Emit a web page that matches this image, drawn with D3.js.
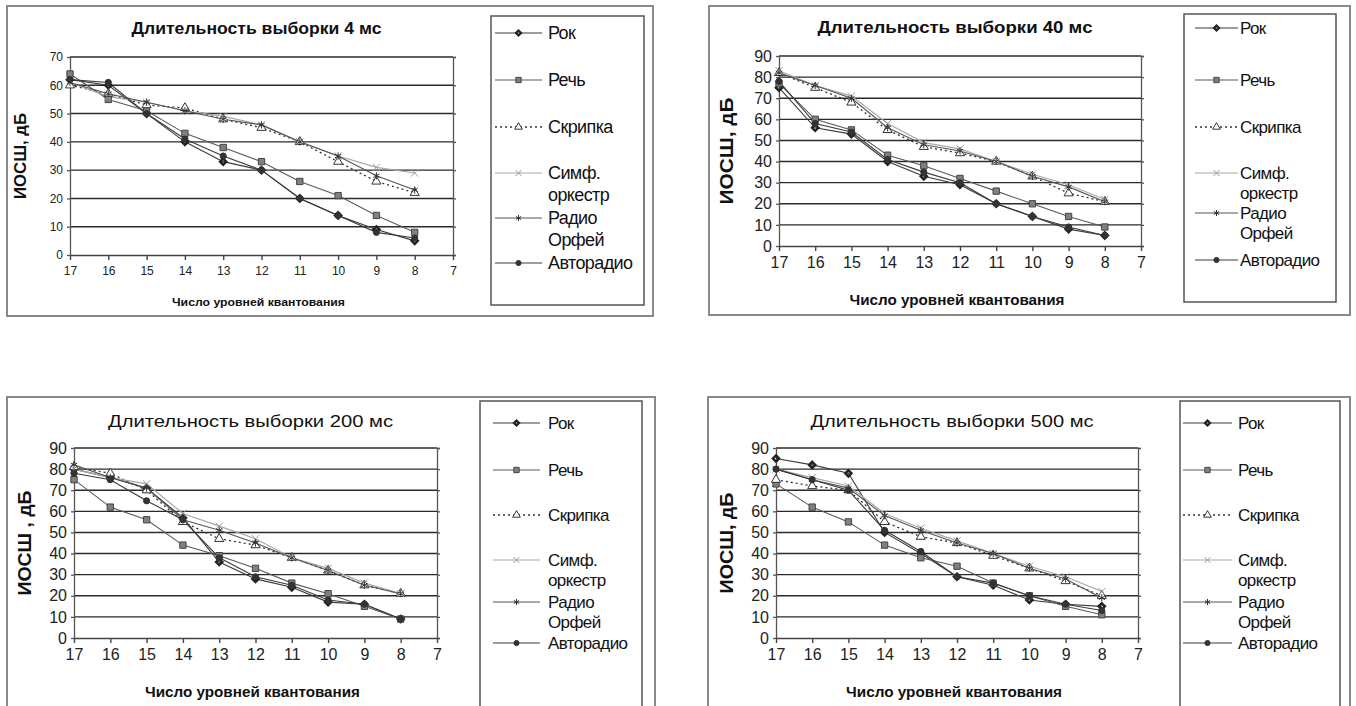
<!DOCTYPE html>
<html>
<head>
<meta charset="utf-8">
<script src="https://cdn.jsdelivr.net/npm/d3@7"></script>
<style>
  html, body { margin: 0; padding: 0; background: #fff; }
  svg { display: block; font-family: "Liberation Sans", Arial, sans-serif; }
</style>
</head>
<body>
<svg id="chart" width="1356" height="706"></svg>
<script>
// ---------- DATA ----------
const levels = [17, 16, 15, 14, 13, 12, 11, 10, 9, 8];
const xTickLabels = [17, 16, 15, 14, 13, 12, 11, 10, 9, 8, 7];
const seriesNames = ["Рок", "Речь", "Скрипка", "Симф. оркестр", "Радио Орфей", "Авторадио"];
const titles = ["Длительность выборки 4 мс", "Длительность выборки 40 мс",
                "Длительность выборки 200 мс", "Длительность выборки 500 мс"];
const yLabels = ["ИОСШ, дБ", "ИОСШ, дБ", "ИОСШ , дБ", "ИОСШ, дБ"];
const xLabel = "Число уровней квантования";
const yTicks4 = [0, 10, 20, 30, 40, 50, 60, 70];
const yTicksOther = [0, 10, 20, 30, 40, 50, 60, 70, 80, 90];

// 4 ms
const rock4    = [62, 60, 50, 40, 33, 30, 20, 14, 9, 5];
const speech4  = [64, 55, 51, 43, 38, 33, 26, 21, 14, 8];
const violin4  = [60, 57, 53, 52, 48, 45, 40, 33, 26, 22];
const orch4    = [61, 56, 54, 51, 49, 46, 40, 35, 31, 29];
const orfei4   = [61, 57, 54, 51, 48, 46, 40, 35, 28, 23];
const avto4    = [62, 61, 50, 41, 35, 30, 20, 14, 8, 6];
// 40 ms
const rock40   = [75, 56, 53, 40, 33, 29, 20, 14, 8, 5];
const speech40 = [77, 60, 55, 43, 38, 32, 26, 20, 14, 9];
const violin40 = [82, 75, 68, 55, 47, 44, 40, 33, 25, 21];
const orch40   = [83, 76, 71, 58, 49, 46, 40, 34, 29, 22];
const orfei40  = [82, 76, 70, 56, 48, 45, 40, 33, 28, 21];
const avto40   = [78, 58, 54, 41, 35, 30, 20, 14, 9, 5];
// 200 ms
const rock200   = [80, 76, 71, 57, 36, 28, 24, 17, 16, 9];
const speech200 = [75, 62, 56, 44, 39, 33, 26, 21, 15, 9];
const violin200 = [81, 78, 70, 55, 47, 44, 38, 32, 25, 21];
const orch200   = [80, 76, 73, 59, 53, 47, 38, 33, 26, 21];
const orfei200  = [82, 76, 71, 56, 51, 45, 38, 32, 25, 21];
const avto200   = [78, 75, 65, 56, 38, 29, 25, 18, 16, 9];
// 500 ms
const rock500   = [85, 82, 78, 50, 40, 29, 25, 18, 16, 15];
const speech500 = [73, 62, 55, 44, 38, 34, 26, 20, 15, 11];
const violin500 = [75, 72, 70, 55, 48, 45, 39, 33, 27, 20];
const orch500   = [80, 76, 72, 59, 52, 46, 40, 34, 29, 22];
const orfei500  = [80, 75, 71, 58, 51, 45, 40, 33, 28, 19];
const avto500   = [80, 75, 70, 51, 41, 29, 26, 20, 16, 13];

// ---------- STYLES ----------
const styles = [
  { stroke: "#3a3a3a", width: 1.1, dash: null,  marker: "diamond",  fill: "#222",  mstroke: "#222",  size: 24 },
  { stroke: "#5a5a5a", width: 1.1, dash: null,  marker: "square",   fill: "#808080", mstroke: "#444", size: 40 },
  { stroke: "#333",    width: 1.3, dash: "2,3", marker: "triangle", fill: "#fff",  mstroke: "#333",  size: 36 },
  { stroke: "#a8a8a8", width: 1.2, dash: null,  marker: "cross",    fill: "none",  mstroke: "#999",  size: 36 },
  { stroke: "#555",    width: 1.1, dash: null,  marker: "star",     fill: "none",  mstroke: "#333",  size: 36 },
  { stroke: "#3a3a3a", width: 1.1, dash: null,  marker: "circle",   fill: "#333",  mstroke: "#333",  size: 30 }
];
const symbolTypes = {
  diamond: d3.symbolDiamond2, square: d3.symbolSquare, triangle: d3.symbolTriangle,
  cross: d3.symbolX, star: d3.symbolAsterisk, circle: d3.symbolCircle
};

const panels = [
  { title: titles[0], yLabel: yLabels[0], yMax: 70, yTicks: yTicks4,
    series: [rock4, speech4, violin4, orch4, orfei4, avto4],
    box: [7, 6, 646, 310], plot: { x0: 70, x1: 453, y0: 255, y1: 57 },
    tickFont: 12, titleFont: 16, titleBold: true, titleLen: 250, titleY: 34,
    yLabFont: 16, yLabLen: 86, yLabX: 20,
    xLabFont: 11, xLabLen: 173, xLabY: 306,
    legend: { box: [491, 16, 153, 289], rows: [33, 80, 127, 173, 218, 263], lx0: 495, lx1: 542, tx: 548, font: 18, gap: 22 } },
  { title: titles[1], yLabel: yLabels[1], yMax: 90, yTicks: yTicksOther,
    series: [rock40, speech40, violin40, orch40, orfei40, avto40],
    box: [709, 6, 641, 309], plot: { x0: 779, x1: 1141, y0: 246, y1: 56 },
    tickFont: 16, titleFont: 16, titleBold: true, titleLen: 275, titleY: 33,
    yLabFont: 18, yLabLen: 107, yLabX: 727,
    xLabFont: 14, xLabLen: 215, xLabY: 305,
    legend: { box: [1184, 14, 152, 288], rows: [28, 80, 127, 173, 213, 260], lx0: 1195, lx1: 1238, tx: 1240, font: 17, gap: 20 } },
  { title: titles[2], yLabel: yLabels[2], yMax: 90, yTicks: yTicksOther,
    series: [rock200, speech200, violin200, orch200, orfei200, avto200],
    box: [7, 397, 648, 330], plot: { x0: 74, x1: 437, y0: 638, y1: 448 },
    tickFont: 16, titleFont: 17, titleBold: false, titleLen: 285, titleY: 427,
    yLabFont: 18, yLabLen: 105, yLabX: 25,
    xLabFont: 14, xLabLen: 215, xLabY: 697,
    legend: { box: [480, 401, 162, 310], rows: [423, 470, 515, 560, 602, 643], lx0: 493, lx1: 540, tx: 548, font: 17, gap: 20 } },
  { title: titles[3], yLabel: yLabels[3], yMax: 90, yTicks: yTicksOther,
    series: [rock500, speech500, violin500, orch500, orfei500, avto500],
    box: [708, 397, 642, 330], plot: { x0: 776, x1: 1138, y0: 638, y1: 448 },
    tickFont: 16, titleFont: 17, titleBold: false, titleLen: 283, titleY: 427,
    yLabFont: 18, yLabLen: 101, yLabX: 727,
    xLabFont: 14, xLabLen: 216, xLabY: 697,
    legend: { box: [1180, 401, 160, 310], rows: [423, 470, 515, 560, 602, 643], lx0: 1183, lx1: 1232, tx: 1238, font: 17, gap: 20 } }
];

const svg = d3.select("#chart");

function drawPanel(p) {
  const g = svg.append("g");
  g.append("rect").attr("x", p.box[0]).attr("y", p.box[1]).attr("width", p.box[2]).attr("height", p.box[3])
    .attr("fill", "#fff").attr("stroke", "#8a8a8a").attr("stroke-width", 2);

  const x = d3.scaleLinear().domain([17, 7]).range([p.plot.x0, p.plot.x1]);
  const y = d3.scaleLinear().domain([0, p.yMax]).range([p.plot.y0, p.plot.y1]);

  g.append("g").selectAll("line").data(p.yTicks.filter(t => t > 0)).join("line")
    .attr("x1", p.plot.x0).attr("x2", p.plot.x1)
    .attr("y1", d => y(d)).attr("y2", d => y(d))
    .attr("stroke", "#2a2a2a").attr("stroke-width", 1.4);

  const rAxis = d3.axisRight(y).tickValues(p.yTicks).tickSize(3).tickFormat("");
  g.append("g").attr("transform", `translate(${p.plot.x1},0)`).call(rAxis)
    .call(a => a.selectAll("line, path").attr("stroke", "#555").attr("stroke-width", 1.3));

  const lAxis = d3.axisLeft(y).tickValues(p.yTicks).tickSize(3).tickSizeOuter(0).tickPadding(4);
  g.append("g").attr("transform", `translate(${p.plot.x0},0)`).call(lAxis)
    .call(a => a.selectAll("line, path").attr("stroke", "#555").attr("stroke-width", 1.3))
    .call(a => a.selectAll("text").attr("font-size", p.tickFont).attr("fill", "#222")
      .attr("font-family", "Liberation Sans, Arial, sans-serif"));

  const bAxis = d3.axisBottom(x).tickValues(xTickLabels).tickSize(5).tickSizeOuter(0).tickPadding(6)
    .tickFormat(d3.format("d"));
  g.append("g").attr("transform", `translate(0,${p.plot.y0})`).call(bAxis)
    .call(a => a.selectAll("line, path").attr("stroke", "#444").attr("stroke-width", 1.4))
    .call(a => a.selectAll("text").attr("font-size", p.tickFont).attr("fill", "#222")
      .attr("font-family", "Liberation Sans, Arial, sans-serif"));

  const line = d3.line().x((d, i) => x(levels[i])).y(d => y(d));
  p.series.forEach((vals, si) => {
    const s = styles[si];
    g.append("path").datum(vals).attr("d", line)
      .attr("fill", "none").attr("stroke", s.stroke).attr("stroke-width", s.width)
      .attr("stroke-dasharray", s.dash);
  });
  p.series.forEach((vals, si) => {
    const s = styles[si];
    const sym = d3.symbol().type(symbolTypes[s.marker]).size(s.size);
    g.append("g").selectAll("path").data(vals).join("path")
      .attr("transform", (d, i) => `translate(${x(levels[i])},${y(d)})` + (s.marker === "diamond" ? " rotate(0)" : ""))
      .attr("d", sym)
      .attr("fill", s.marker === "diamond" ? "none" : s.fill)
      .attr("stroke", s.mstroke).attr("stroke-width", s.marker === "diamond" ? 2.5 : 1);
  });

  g.append("text").attr("x", (p.plot.x0 + p.plot.x1) / 2 - 5).attr("y", p.titleY)
    .attr("text-anchor", "middle").attr("font-size", p.titleFont)
    .attr("font-weight", p.titleBold ? "bold" : "normal").attr("fill", "#111")
    .attr("textLength", p.titleLen).attr("lengthAdjust", "spacingAndGlyphs")
    .text(p.title);

  const ymid = (p.plot.y0 + p.plot.y1) / 2;
  g.append("text").attr("transform", `translate(${p.yLabX + p.yLabFont * 0.35},${ymid}) rotate(-90)`)
    .attr("text-anchor", "middle").attr("font-size", p.yLabFont).attr("font-weight", "bold").attr("fill", "#111")
    .attr("textLength", p.yLabLen).attr("lengthAdjust", "spacingAndGlyphs")
    .text(p.yLabel);

  g.append("text").attr("x", (p.plot.x0 + p.plot.x1) / 2 - 3).attr("y", p.xLabY)
    .attr("text-anchor", "middle").attr("font-size", p.xLabFont).attr("fill", "#111")
    .attr("font-weight", "bold")
    .attr("textLength", p.xLabLen).attr("lengthAdjust", "spacingAndGlyphs")
    .text(xLabel);

  const L = p.legend;
  g.append("rect").attr("x", L.box[0]).attr("y", L.box[1]).attr("width", L.box[2]).attr("height", L.box[3])
    .attr("fill", "#fff").attr("stroke", "#555").attr("stroke-width", 1.5);
  seriesNames.forEach((name, si) => {
    const s = styles[si];
    const ry = L.rows[si];
    g.append("line").attr("x1", L.lx0).attr("x2", L.lx1).attr("y1", ry).attr("y2", ry)
      .attr("stroke", s.stroke).attr("stroke-width", s.width).attr("stroke-dasharray", s.dash);
    g.append("path").attr("transform", `translate(${(L.lx0 + L.lx1) / 2},${ry})`)
      .attr("d", d3.symbol().type(symbolTypes[s.marker]).size(s.size * 0.7))
      .attr("fill", s.marker === "diamond" ? "none" : s.fill)
      .attr("stroke", s.mstroke).attr("stroke-width", s.marker === "diamond" ? 2.2 : 1);
    const parts = name.split(" ");
    const t = g.append("text").attr("x", L.tx).attr("y", ry + L.font * 0.35)
      .attr("font-size", L.font).attr("fill", "#111").attr("letter-spacing", -0.6);
    parts.forEach((pt, k) => {
      t.append("tspan").attr("x", L.tx).attr("dy", k === 0 ? 0 : L.gap).text(pt);
    });
  });
}

panels.forEach(drawPanel);
</script>
</body>
</html>
